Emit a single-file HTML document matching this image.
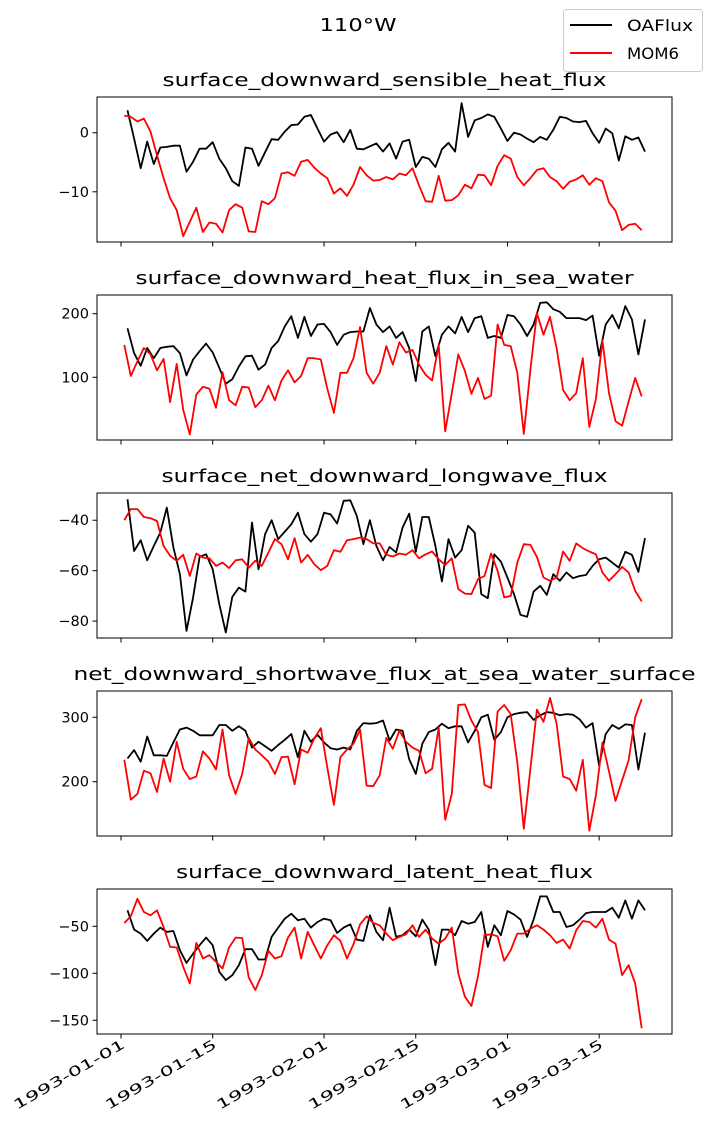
<!DOCTYPE html>
<html><head><meta charset="utf-8"><style>
html,body{margin:0;padding:0;background:#fff;}
svg{display:block;font-family:"DejaVu Sans","Liberation Sans",sans-serif;}
</style></head><body>
<svg id="chart" width="712" height="1136" viewBox="0 0 712 1136" xmlns="http://www.w3.org/2000/svg">
<text x="358" y="31" font-size="17.5" text-anchor="middle" textLength="77" lengthAdjust="spacingAndGlyphs">110°W</text>
<g>
<rect x="563.5" y="9.5" width="139" height="62" rx="3" fill="#fff" stroke="#ccc"/>
<g><line x1="570" y1="25" x2="612" y2="25" stroke="#000" stroke-width="2"/><text x="627" y="31" font-size="16" textLength="66" lengthAdjust="spacingAndGlyphs">OAFlux</text></g>
<g><line x1="570" y1="53" x2="612" y2="53" stroke="#f00" stroke-width="2"/><text x="627" y="59" font-size="16" textLength="52" lengthAdjust="spacingAndGlyphs">MOM6</text></g>
</g>
</svg>
<script>
const titles=["surface_downward_sensible_heat_flux","surface_downward_heat_flux_in_sea_water","surface_net_downward_longwave_flux","net_downward_shortwave_flux_at_sea_water_surface","surface_downward_latent_heat_flux"];
const titleWidths=[444,498,446,622,417];
const yTicks=[[0,-10],[200,100],[-40,-60,-80],[300,200],[-50,-100,-150]];
const yRanges=[[6.05,-18.5],[229.4,1.4],[-29.2,-86.7],[340.8,115.7],[-10.3,-164.6]];
const xTickDays=[0,14,31,45,59,73];
const xTickLabels=["1993-01-01","1993-01-15","1993-02-01","1993-02-15","1993-03-01","1993-03-15"];
const oafluxSensible=[3.8,-1,-6,-1.5,-5.3,-2.5,-2.4,-2.2,-2.2,-6.6,-4.9,-2.7,-2.7,-1.6,-4.4,-6,-8.2,-9,-2.5,-2.7,-5.6,-3.3,-1.1,-1.2,0.2,1.3,1.4,2.7,3,0.7,-1.5,-0.3,0.1,-1.6,0.5,-2.7,-2.8,-2.3,-1.8,-3.2,-1.8,-4.4,-1.5,-1.2,-5.8,-4.1,-4.4,-5.8,-2.8,-1.7,-3.2,5,-0.7,2.1,2.5,3.1,2.7,0.7,-1.4,0,-0.3,-1,-1.6,-0.7,-1.2,0.5,2.7,2.5,1.9,1.8,2,-0.1,-1.7,0.7,-0.1,-4.7,-0.6,-1.2,-0.8,-3.2];
const mom6Sensible=[2.9,2.7,1.9,2.4,0.2,-3.8,-7.7,-11.1,-13.1,-17.5,-15.1,-12.7,-16.8,-15.2,-15.4,-16.9,-13.1,-12.1,-12.7,-16.7,-16.8,-11.6,-12.1,-11.1,-6.9,-6.7,-7.3,-4.9,-4.6,-5.9,-6.9,-7.7,-10.3,-9.4,-10.7,-8.8,-5.8,-7.2,-8.1,-8,-7.5,-7.9,-6.9,-7.2,-6,-8.9,-11.6,-11.7,-7.3,-11.5,-11.4,-10.6,-8.8,-9.4,-7.1,-7.2,-8.9,-5.6,-3.8,-4.4,-7.5,-8.9,-7.7,-6.3,-6,-7.5,-8.2,-9.5,-8.3,-7.9,-7.2,-8.8,-7.7,-8.2,-11.8,-13.2,-16.5,-15.6,-15.4,-16.5];
const oafluxHeat=[177,138,118,146,130,146,148,149,138,103,128,141,153,139,115,90,97,117,133,134,112,120,146,157,180,196,162,195,165,183,184,171,151,167,171,172,172,209,183,171,180,162,171,146,94,172,180,133,167,180,169,195,171,193,196,162,165,162,198,196,183,165,183,217,218,207,203,193,193,193,190,197,134,183,198,177,212,191,136,191];
const mom6Heat=[151,102,125,146,136,111,129,61,121,49,10,73,85,82,52,108,64,56,85,84,53,64,87,64,95,111,92,102,130,130,128,82,44,107,107,130,179,107,90,107,149,120,155,139,143,120,104,95,151,15,75,136,110,74,99,66,71,183,151,149,107,11,112,201,167,195,146,80,64,75,130,22,66,158,75,31,24,62,99,70];
const oafluxLongwave=[-31.7,-52.2,-47.9,-55.9,-50.2,-44.9,-35,-50.8,-61.4,-83.9,-70.6,-54.5,-53.5,-59.4,-73.3,-84.5,-70.4,-66.7,-68.3,-40.9,-59.4,-45.5,-40,-47.5,-44.5,-41.6,-37,-45.5,-48.5,-45.5,-37,-37.7,-41.3,-32.3,-32.1,-38.3,-49.5,-40,-50.2,-55.9,-50.6,-52.8,-42.9,-37.4,-52.5,-38.7,-38.7,-50.2,-64.3,-47.5,-54.8,-51.9,-42.2,-44.9,-69.3,-70.9,-53.5,-56.4,-62.7,-69.3,-77.5,-78.3,-68.3,-66,-69.6,-61.4,-64,-60.7,-63,-62.1,-61.7,-58.1,-55.5,-54.8,-56.8,-58.8,-52.5,-53.7,-60.5,-47.1];
const mom6Longwave=[-40,-35.6,-35.6,-38.7,-39.2,-40.3,-50.2,-54.1,-56.1,-53.7,-62.1,-53.2,-54.8,-55.1,-58.1,-56.8,-59,-55.9,-55.5,-58.8,-56.1,-58.1,-52.8,-47.5,-49.5,-55.5,-47.1,-56.8,-53.7,-57.4,-59.8,-58.1,-51.9,-52.5,-47.9,-47.5,-46.9,-47.5,-49.2,-49.2,-53.7,-54.4,-53.2,-53.7,-51.9,-55.1,-53.5,-52.4,-55.5,-57.7,-55.1,-67.3,-69.1,-69.3,-63.4,-62.1,-53.2,-60.1,-70.6,-70,-56.8,-49.5,-49.8,-54.5,-62.7,-64,-62.7,-52.4,-56.1,-49.2,-51.1,-52.4,-53.5,-60.7,-64,-61.4,-58.5,-60.7,-68,-72.2];
const oafluxShortwave=[236,249,231,270,241,241,240,261,281,284,279,272,272,272,288,288,279,286,279,253,262,255,248,257,265,274,238,279,262,273,261,252,250,253,250,279,291,290,291,295,264,281,279,235,212,259,277,281,290,283,286,286,261,279,300,304,265,277,300,305,307,308,296,303,308,307,303,305,304,297,284,291,225,274,288,282,289,288,219,276];
const mom6Shortwave=[234,172,181,217,213,184,236,200,262,220,204,208,247,236,219,281,210,181,212,268,250,241,231,212,238,239,196,250,245,267,283,222,164,238,250,259,281,194,193,210,268,251,279,262,253,248,213,220,284,141,181,319,320,295,277,195,190,309,319,305,230,127,220,312,293,330,290,208,204,186,234,124,179,261,216,170,202,233,300,328];
const oafluxLatent=[-33,-53.5,-57.8,-65.5,-57.8,-51.4,-56,-55,-75.4,-88.9,-79,-70.1,-62,-70.1,-98.4,-107.2,-102,-91.3,-74.4,-74.4,-85.3,-85.3,-61.3,-51.4,-41.9,-36.6,-43.6,-41.9,-51.4,-45.4,-41.9,-43.6,-57,-51.4,-47.9,-64.1,-65.5,-38.3,-56,-64.8,-30.2,-61.3,-59.5,-53.5,-60.6,-42.9,-53.5,-91.3,-53.5,-53.5,-59.5,-44.3,-47.2,-45.4,-34.8,-71.9,-48.9,-59.5,-33.7,-37.3,-42.9,-61.3,-42.9,-18.2,-18.2,-34.8,-34.8,-50.7,-48.9,-42.9,-35.9,-34.8,-34.8,-34.8,-30.2,-40.8,-22.4,-41.9,-22.4,-33];
const mom6Latent=[-46.5,-39.4,-20.7,-34.8,-38.3,-33,-50.7,-71.9,-72.6,-93.1,-110.8,-67.7,-84.3,-80.7,-87.8,-94.9,-72.6,-62,-62.4,-104.4,-117.8,-101.9,-76.1,-84.3,-81.8,-62,-51.4,-84.3,-56,-70.1,-84.3,-70.1,-59.5,-65.5,-84.3,-69.1,-47.9,-39.4,-46.5,-48.9,-57.8,-64.8,-61.3,-58.5,-48.9,-61.3,-53.5,-63.1,-68.4,-63.1,-51.4,-100.2,-124.9,-134.8,-103,-59.5,-58.5,-60.6,-86.7,-75.4,-57.8,-57.8,-52.5,-48.9,-53.5,-59.5,-67.7,-64.1,-73.7,-54.2,-44.3,-45.4,-51.4,-41.9,-64.1,-68.4,-101.9,-91.3,-110.8,-158.5];
const oafluxSeries=[oafluxSensible,oafluxHeat,oafluxLongwave,oafluxShortwave,oafluxLatent];
const mom6Series=[mom6Sensible,mom6Heat,mom6Longwave,mom6Shortwave,mom6Latent];
const panelNames=["sensible-heat","heat-flux-in-sea-water","longwave","shortwave","latent-heat"];
const oafluxStartDay=1, mom6StartDay=0.5;

const NS="http://www.w3.org/2000/svg";
const svg=document.getElementById('chart');
const L=97,R=672,H=145,DAY0X=121,PXDAY=6.55;
function xScale(d){return DAY0X+d*PXDAY;}
function mk(tag,attrs,parent){const e=document.createElementNS(NS,tag);for(const k in attrs)e.setAttribute(k,attrs[k]);parent.appendChild(e);return e;}

for(let p=0;p<5;p++){
  const top=97+198*p, bot=top+H;
  const [y0,y1]=yRanges[p];
  const yScale=v=>top+(y0-v)/(y0-y1)*H;
  const g=mk('g',{},svg);
  
  
  const t=mk('text',{x:(L+R)/2,y:top-11,'font-size':17.5,'text-anchor':'middle',textLength:titleWidths[p],lengthAdjust:'spacingAndGlyphs'},g);
  
  
  t.textContent=titles[p];
  yTicks[p].forEach(v=>{
    const yy=yScale(v);
    const tk=mk('line',{x1:L-4.5,x2:L,y1:yy,y2:yy,stroke:'#000','stroke-width':1},g);
    
    
    const s=v<0?'\u2212'+Math.abs(v):String(v);
    const tl=mk('text',{x:L-8,y:yy+5,'font-size':14.5,'text-anchor':'end'},g);
    
    
    tl.textContent=s;
  });
  xTickDays.forEach((d,i)=>{
    const xx=xScale(d);
    const tk=mk('line',{x1:xx,x2:xx,y1:bot,y2:bot+4.5,stroke:'#000','stroke-width':1},g);
    
    
    if(p===4){
      const tl=mk('text',{x:0,y:0,'font-size':13.5,'text-anchor':'end',textLength:126,lengthAdjust:'spacingAndGlyphs',transform:`translate(${xx+5},${bot+13}) rotate(-30)`},g);
      
      
      tl.textContent=xTickLabels[i];
    }
  });
  const clip=mk('clipPath',{id:'c'+p},g);
  mk('rect',{x:L,y:top,width:R-L,height:H},clip);
  const lines=mk('g',{'clip-path':`url(#c${p})`},g);
  const mkLine=(arr,start,color,name)=>{
    const pts=arr.map((v,i)=>xScale(start+i).toFixed(1)+','+yScale(v).toFixed(1)).join(' ');
    const pl=mk('polyline',{points:pts,fill:'none',stroke:color,'stroke-width':1.8,'stroke-linejoin':'round'},lines);
    
    
  };
  mkLine(oafluxSeries[p],oafluxStartDay,'#000','oaflux-line');
  mkLine(mom6Series[p],mom6StartDay,'#f00','mom6-line');
  const fr=mk('rect',{x:L,y:top,width:R-L,height:H,fill:'none',stroke:'#000','stroke-width':1},g);
  
  
}
</script>
</body></html>
